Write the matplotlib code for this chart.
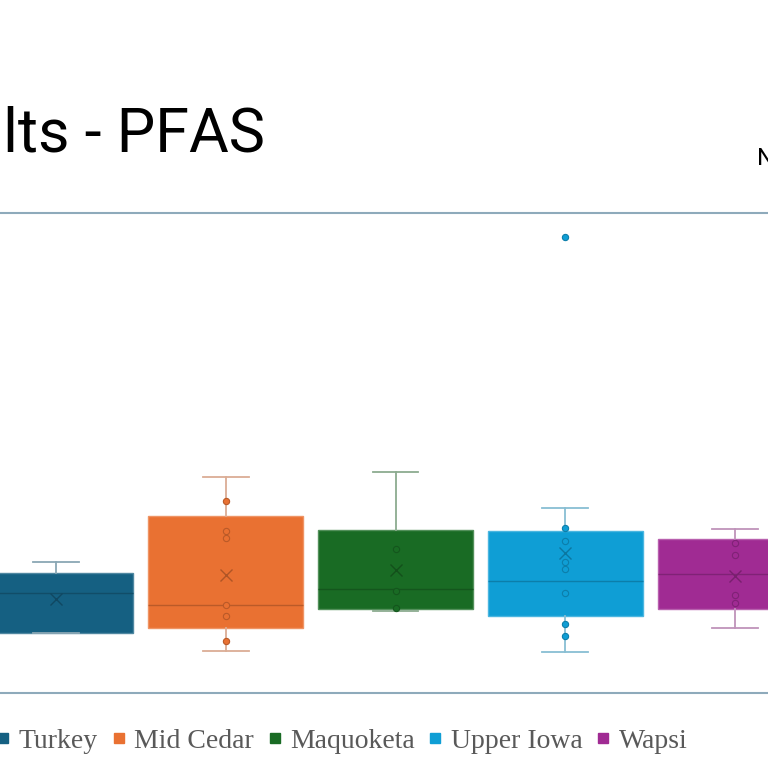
import matplotlib.pyplot as plt
import matplotlib.colors as mcolors
from matplotlib.lines import Line2D
import numpy as np

# Daten (willkuerliche Einheit: Achse 0..100)
sites = ['Turkey', 'Mid Cedar', 'Maquoketa', 'Upper Iowa', 'Wapsi']
colors = ['#156082', '#E97132', '#196B24', '#0F9ED5', '#A02B93']

whislo = [12.4, 8.7, 17.0, 8.6, 13.6]
q1 = [12.6, 13.5, 17.4, 16.0, 17.4]
med = [20.9, 18.4, 21.6, 23.3, 24.7]
q3 = [24.9, 36.9, 34.0, 33.8, 32.0]
whishi = [27.2, 45.1, 46.0, 38.5, 34.1]
means = [19.6, 24.5, 25.6, 29.1, 24.4]

inner_points = [
    [],
    [40.1, 33.8, 32.2, 18.4, 16.1, 10.9],
    [30.0, 21.3, 17.7],
    [34.3, 31.6, 27.2, 25.8, 20.8, 14.3, 11.9],
    [31.3, 28.8, 20.4, 18.7],
]
outliers = [[], [], [], [95.1], []]


def mix(c, other, w):
    a = np.array(mcolors.to_rgb(c))
    b = np.array(mcolors.to_rgb(other))
    return tuple(w * a + (1 - w) * b)


fig = plt.figure(figsize=(7.68, 7.68), dpi=100)
ax = fig.add_axes([0, 75 / 768, 1, 480 / 768])

pos = np.arange(len(sites))
for i, name in enumerate(sites):
    c = colors[i]
    stats = [dict(whislo=whislo[i], q1=q1[i], med=med[i], q3=q3[i],
                  whishi=whishi[i], mean=means[i], fliers=[])]
    wc = mix(c, '#d2d2d2', 0.38)
    ax.bxp(stats, positions=[pos[i]], widths=0.913, capwidths=0.27,
           patch_artist=True, showmeans=True, showfliers=False,
           boxprops=dict(facecolor=c, edgecolor=mix(c, 'white', 0.75), linewidth=1),
           medianprops=dict(color=mix(c, 'black', 0.8), linewidth=1),
           whiskerprops=dict(color=wc, linewidth=1.3),
           capprops=dict(color=wc, linewidth=1.3),
           meanprops=dict(marker='x', markersize=9, markeredgewidth=1,
                          markeredgecolor=mix(c, 'black', 0.75)),
           zorder=2)
    pts = inner_points[i] + outliers[i]
    ax.plot([pos[i]] * len(pts), pts, 'o', markersize=4.5,
            markerfacecolor=c, markeredgecolor=mix(c, 'black', 0.8),
            markeredgewidth=0.8, zorder=3)

ax.set_xlim(-56 / 169.75, (768 - 56) / 169.75)
ax.set_ylim(0, 100)
ax.set_xticks([])
ax.set_yticks([])
for s in ['left', 'right']:
    ax.spines[s].set_visible(False)
for s in ['top', 'bottom']:
    ax.spines[s].set_color('#8eaabb')
    ax.spines[s].set_linewidth(1.5)

# Titel (links abgeschnitten wie im Original)
fig.text(265 / 768, 1 - 152 / 768, 'Results - PFAS', ha='right', va='baseline',
         fontsize=44, family='Roboto', color='black')
fig.text(757 / 768, 1 - 165 / 768, 'N', ha='left', va='baseline',
         fontsize=17, family='Roboto', color='black')

# Legende
handles = [Line2D([], [], marker='s', linestyle='none', markersize=7,
                  markerfacecolor=c, markeredgecolor=c) for c in colors]
fig.legend(handles, sites, ncol=5, loc='center',
           bbox_to_anchor=(342 / 768, 1 - 741 / 768), frameon=False,
           prop=dict(family='Liberation Serif', size=20),
           labelcolor='#595959', handlelength=0.5, handletextpad=0.3,
           columnspacing=0.5, borderpad=0, borderaxespad=0)

plt.savefig('out.png', dpi=100)
